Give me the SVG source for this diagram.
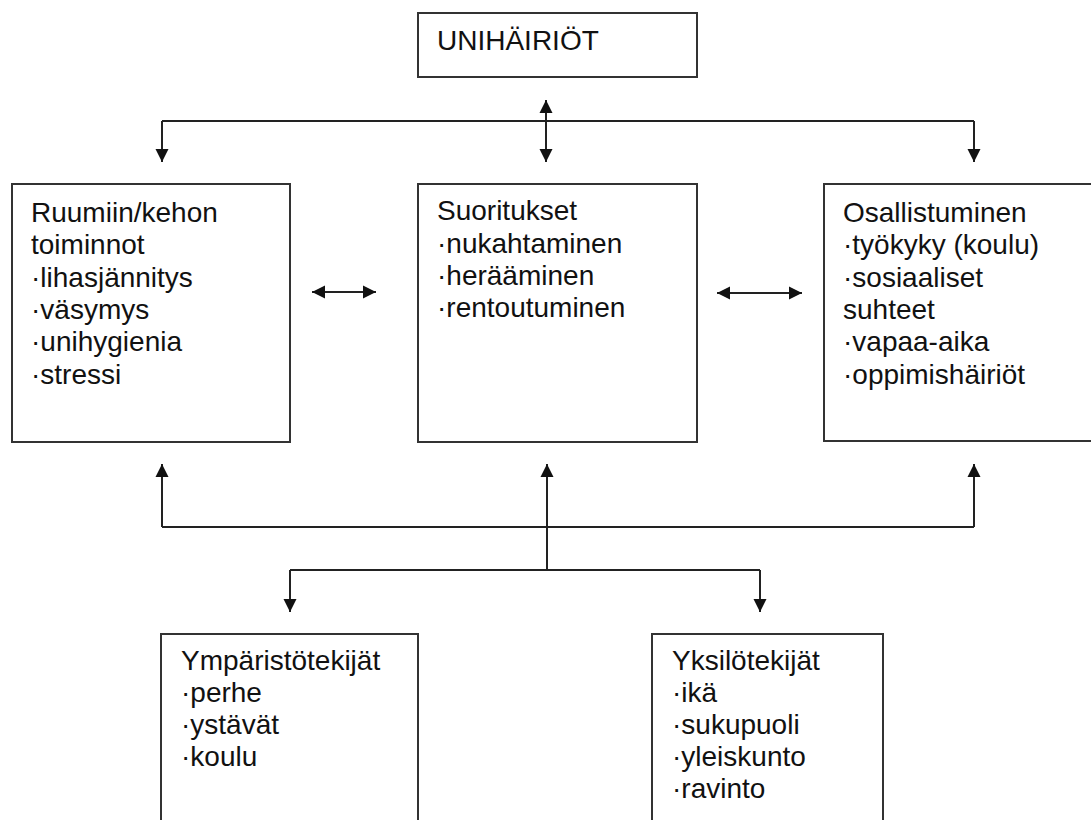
<svg xmlns="http://www.w3.org/2000/svg" width="1091" height="820" viewBox="0 0 1091 820">
  <defs>
    <marker id="arr" markerUnits="userSpaceOnUse" markerWidth="14" markerHeight="14" refX="13" refY="7" orient="auto-start-reverse">
      <path d="M0,0.5 L13,7 L0,13.5 z" fill="#111"/>
    </marker>
  </defs>
  <style>
    .box { fill: #fff; stroke: #333; stroke-width: 2; }
    .t { font-family: "Liberation Sans", Arial, sans-serif; font-size: 28px; fill: #111; }
    .c { fill: none; stroke: #222; stroke-width: 2; }
  </style>
  <rect width="1091" height="820" fill="#fff"/>

  <g id="connectors">
    <line class="c" x1="546" y1="100" x2="546" y2="162" marker-start="url(#arr)" marker-end="url(#arr)"/>
    <line class="c" x1="162" y1="121" x2="974" y2="121"/>
    <line class="c" x1="162" y1="121" x2="162" y2="162" marker-end="url(#arr)"/>
    <line class="c" x1="974" y1="121" x2="974" y2="162" marker-end="url(#arr)"/>
    <line class="c" x1="312" y1="292" x2="376" y2="292" marker-start="url(#arr)" marker-end="url(#arr)"/>
    <line class="c" x1="717" y1="293" x2="802" y2="293" marker-start="url(#arr)" marker-end="url(#arr)"/>
    <line class="c" x1="162" y1="527" x2="974" y2="527"/>
    <line class="c" x1="162" y1="527" x2="162" y2="464" marker-end="url(#arr)"/>
    <line class="c" x1="974" y1="527" x2="974" y2="464" marker-end="url(#arr)"/>
    <line class="c" x1="547" y1="570" x2="547" y2="464" marker-end="url(#arr)"/>
    <line class="c" x1="290" y1="570" x2="760" y2="570"/>
    <line class="c" x1="290" y1="570" x2="290" y2="612" marker-end="url(#arr)"/>
    <line class="c" x1="760" y1="570" x2="760" y2="612" marker-end="url(#arr)"/>
  </g>

  <g id="unihairiot">
    <rect class="box" x="418" y="13" width="279" height="64"/>
    <text class="t" x="437" y="50">UNIHÄIRIÖT</text>
  </g>

  <g id="ruumiin">
    <rect class="box" x="12" y="184" width="278" height="258"/>
    <text class="t" x="31" y="222">Ruumiin/kehon</text>
    <text class="t" x="31" y="254">toiminnot</text>
    <text class="t" x="31" y="287">·lihasjännitys</text>
    <text class="t" x="31" y="319">·väsymys</text>
    <text class="t" x="31" y="351">·unihygienia</text>
    <text class="t" x="31" y="384">·stressi</text>
  </g>

  <g id="suoritukset">
    <rect class="box" x="418" y="184" width="279" height="258"/>
    <text class="t" x="437" y="220">Suoritukset</text>
    <text class="t" x="437" y="253">·nukahtaminen</text>
    <text class="t" x="437" y="285">·herääminen</text>
    <text class="t" x="437" y="317">·rentoutuminen</text>
  </g>

  <g id="osallistuminen">
    <rect class="box" x="824" y="184" width="280" height="257"/>
    <text class="t" x="843" y="222">Osallistuminen</text>
    <text class="t" x="843" y="254">·työkyky (koulu)</text>
    <text class="t" x="843" y="287">·sosiaaliset</text>
    <text class="t" x="843" y="319">suhteet</text>
    <text class="t" x="843" y="351">·vapaa-aika</text>
    <text class="t" x="843" y="384">·oppimishäiriöt</text>
  </g>

  <g id="ymparistotekijat">
    <rect class="box" x="161" y="634" width="257" height="200"/>
    <text class="t" x="181" y="670">Ympäristötekijät</text>
    <text class="t" x="181" y="702">·perhe</text>
    <text class="t" x="181" y="734">·ystävät</text>
    <text class="t" x="181" y="766">·koulu</text>
  </g>

  <g id="yksilotekijat">
    <rect class="box" x="652" y="634" width="231" height="200"/>
    <text class="t" x="672" y="670">Yksilötekijät</text>
    <text class="t" x="672" y="702">·ikä</text>
    <text class="t" x="672" y="734">·sukupuoli</text>
    <text class="t" x="672" y="766">·yleiskunto</text>
    <text class="t" x="672" y="798">·ravinto</text>
  </g>
</svg>
